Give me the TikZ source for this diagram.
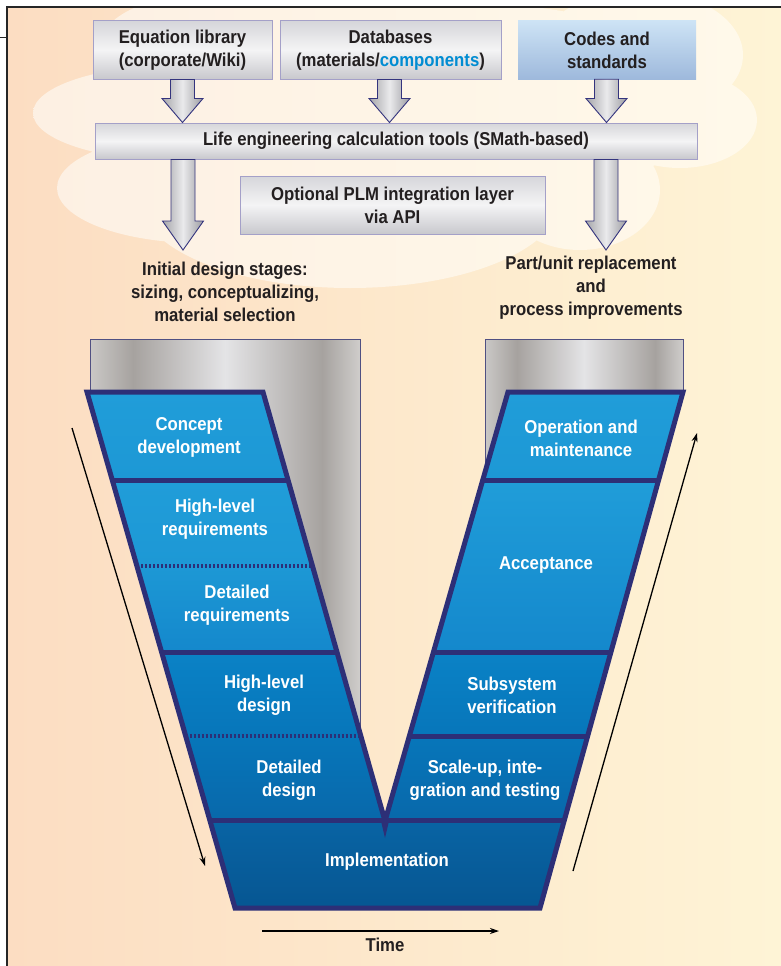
\documentclass[tikz,border=0pt]{standalone}
\usepackage{fontspec}
\setmainfont{Liberation Sans}[FakeStretch=0.9]
\usetikzlibrary{calc,arrows.meta}

% palette
\definecolor{bgleft}{RGB}{252,221,194}
\definecolor{bgright}{RGB}{254,244,214}
\definecolor{cloudleft}{RGB}{253,240,227}
\definecolor{cloudright}{RGB}{255,249,234}
\definecolor{ink}{RGB}{35,31,32}
\definecolor{compblue}{RGB}{0,140,210}
\definecolor{boxline}{RGB}{164,160,200}
\definecolor{boxtop}{RGB}{214,214,218}
\definecolor{boxmid}{RGB}{244,244,245}
\definecolor{boxbot}{RGB}{200,200,205}
\definecolor{codetop}{RGB}{205,227,245}
\definecolor{codebot}{RGB}{158,185,220}
\definecolor{arrowline}{RGB}{52,52,126}
\definecolor{arrowdark}{RGB}{165,165,169}
\definecolor{arrowlight}{RGB}{234,234,236}
\definecolor{arrowdarkR}{RGB}{155,155,160}
\definecolor{navy}{RGB}{45,47,119}
\definecolor{panelline}{RGB}{80,80,130}
\definecolor{cylA}{RGB}{202,200,198}
\definecolor{cylB}{RGB}{166,162,159}
\definecolor{cylC}{RGB}{228,228,230}
\definecolor{cylD}{RGB}{207,205,203}
\definecolor{blueA}{RGB}{32,157,217}
\definecolor{blueB}{RGB}{29,152,213}
\definecolor{blueC}{RGB}{20,136,204}
\definecolor{blueD}{RGB}{10,130,198}
\definecolor{blueE}{RGB}{7,118,186}
\definecolor{blueF}{RGB}{8,104,170}
\definecolor{blueG}{RGB}{9,100,164}
\definecolor{blueH}{RGB}{6,86,146}

% metallic panel behind the two arms
\pgfdeclarehorizontalshading{cylshade}{100bp}{color(0bp)=(cylA); color(25bp)=(cylA);
  color(33bp)=(cylB); color(50bp)=(cylC); color(68bp)=(cylB); color(75bp)=(cylD); color(100bp)=(cylD)}

% downward block arrow: start, tip, head length
\newcommand\blockdown[3]{%
  \shadedraw[blockshade] let \p1=(#1), \p2=(#2) in
    (\x1-12pt,\y1) -- (\x1+12pt,\y1) -- (\x1+12pt,\y2+#3) -- (\x1+20.5pt,\y2+#3)
    -- (\x1,\y2) -- (\x1-20.5pt,\y2+#3) -- (\x1-12pt,\y2+#3) -- cycle;}

\begin{document}
\begin{tikzpicture}[x=1pt,y=-1pt,
  lbl/.style={font=\fontsize{18.6}{23}\selectfont\bfseries, text=ink, align=center, inner sep=0pt},
  vtext/.style={lbl, text=white},
  graybox/.style={lbl, draw=boxline, line width=1pt, top color=boxtop, bottom color=boxbot,
    middle color=boxmid, minimum height=58pt},
  blockshade/.style={draw=arrowline, line width=0.9pt, left color=arrowdark,
    right color=arrowdarkR, middle color=arrowlight},
  vline/.style={draw=navy, line width=5pt},
  vdots/.style={draw=navy, line width=4.5pt, dash pattern=on 2pt off 2pt},
  timearrow/.style={line width=1.3pt, -{Stealth[length=9pt,width=6pt]}}]

\useasboundingbox (0,0) rectangle (781,966);
\fill[white] (0,0) rectangle (781,966);

% background and cloud
\shade[left color=bgleft, right color=bgright] (7,7) rectangle (781,966);
\begin{scope}
  \clip (7,7) rectangle (781,966);
  \shade[left color=cloudleft, right color=cloudright]
    (230,45) ellipse [x radius=130, y radius=55]
    (180,113) ellipse [x radius=147, y radius=48]
    (200,188) ellipse [x radius=143, y radius=55]
    (350,200) ellipse [x radius=210, y radius=88]
    (420,100) ellipse [x radius=310, y radius=100]
    (640,55) ellipse [x radius=103, y radius=65]
    (680,120) ellipse [x radius=77, y radius=48]
    (580,190) ellipse [x radius=80, y radius=60];
\end{scope}

% frame
\draw[line width=1.4pt, black!85] (7,966) -- (7,7) -- (781,7);
\draw[line width=1pt, black!85] (0,38) -- (7,38);

% sources, tool bar and PLM layer
\node[graybox, minimum width=179pt] (eqlib) at (182.5,50) {Equation library\\(corporate/Wiki)};
\node[graybox, minimum width=221pt] (dbase) at (390.5,50) {Databases\\(materials/{\color{compblue}components})};
\node[lbl, top color=codetop, bottom color=codebot, minimum width=178pt, minimum height=58pt] (codes) at (607,50) {Codes and\\standards};
\node[graybox, minimum width=602pt, minimum height=36pt] (bar) at (396,141) {Life engineering calculation tools (SMath-based)};
\node[graybox, minimum width=305pt] (plm) at (392.5,205) {Optional PLM integration layer\\via API};

\coordinate (tipL) at (183,250);
\coordinate (tipR) at (606,250);

\blockdown{eqlib.south}{eqlib.south |- bar.north}{24pt}
\blockdown{dbase.south -| 389.5,0}{389.5,0 |- bar.north}{24pt}
\blockdown{codes.south -| 606.5,0}{606.5,0 |- bar.north}{24pt}
\blockdown{bar.south -| tipL}{tipL}{29pt}
\blockdown{bar.south -| tipR}{tipR}{29pt}

\node[lbl] (initial) at (225,292) {Initial design stages:\\sizing, conceptualizing,\\material selection};
\node[lbl] (replace) at (591,288) {Part/unit replacement\\and\\process improvements};

% metallic panels
\shade[shading=cylshade] (90,339) -- (360,339) -- (360,733) -- (263,392) -- (90,392) -- cycle;
\draw[panelline, line width=0.8pt] (90,392) -- (90,339) -- (360,339) -- (360,733);
\shade[shading=cylshade] (485,339) -- (683,339) -- (683,392) -- (508,392) -- (485,472) -- cycle;
\draw[panelline, line width=0.8pt] (485,472) -- (485,339) -- (683,339) -- (683,392);

% left arm
\shade[top color=blueA, bottom color=blueB] (87,392) -- (263,392) -- (288,480) -- (112.2,480) -- cycle;
\shade[top color=blueA, bottom color=blueB] (112.2,480) -- (288,480) -- (312.5,566) -- (136.9,566) -- cycle;
\shade[top color=blueB, bottom color=blueC] (136.9,566) -- (312.5,566) -- (336.9,652) -- (161.6,652) -- cycle;
\shade[top color=blueD, bottom color=blueE] (161.6,652) -- (336.9,652) -- (360.8,736) -- (185.7,736) -- cycle;
\shade[top color=blueE, bottom color=blueF] (185.7,736) -- (360.8,736) -- (385,821) -- (209.8,820) -- cycle;
% right arm
\shade[top color=blueA, bottom color=blueB] (508,392) -- (683,392) -- (658.6,480) -- (482.8,480) -- cycle;
\shade[top color=blueA, bottom color=blueC] (482.8,480) -- (658.6,480) -- (611,652) -- (433.5,652) -- cycle;
\shade[top color=blueD, bottom color=blueE] (433.5,652) -- (611,652) -- (587.7,736) -- (409.4,736) -- cycle;
\shade[top color=blueE, bottom color=blueF] (409.4,736) -- (587.7,736) -- (564.4,820) -- (385,821) -- cycle;
% base
\shade[top color=blueG, bottom color=blueH] (209.8,820) -- (564.4,820) -- (540,908) -- (235,908) -- cycle;

% stage dividers
\draw[vline] (112.2,480) -- (288,480);
\draw[vdots] (136.9,566) -- (312.5,566);
\draw[vline] (161.6,652) -- (336.9,652);
\draw[vdots] (185.7,736) -- (360.8,736);
\draw[vline] (482.8,480) -- (658.6,480);
\draw[vline] (433.5,652) -- (611,652);
\draw[vline] (409.4,736) -- (587.7,736);
\draw[vline] (209.8,820) -- (564.4,820);
% V outline
\draw[vline, line join=miter] (87,392) -- (263,392) -- (385,821) -- (508,392) -- (683,392)
  -- (540,908) -- (235,908) -- cycle;
\fill[navy] (381,821) -- (389,821) -- (385,838) -- cycle;

% stage labels
\node[vtext] (concept) at (189,437) {Concept\\development};
\node[vtext] (hlreq) at (215,519) {High-level\\requirements};
\node[vtext] (detreq) at (237,605) {Detailed\\requirements};
\node[vtext] (hldes) at (264,695) {High-level\\design};
\node[vtext] (detdes) at (289,780) {Detailed\\design};
\node[vtext] (impl) at (387,862) {Implementation};
\node[vtext] (opm) at (581,438) {Operation and\\maintenance};
\node[vtext] (accept) at (546,565) {Acceptance};
\node[vtext] (subsys) at (512,695) {Subsystem\\verification};
\node[vtext] (scaleup) at (485,780) {Scale-up, inte-\\gration and testing};

% time arrows
\coordinate (downA) at (72,428);
\coordinate (downB) at (205,866);
\coordinate (upA) at (573,871);
\coordinate (upB) at (697,433);
\coordinate (timeA) at (262,931);
\coordinate (timeB) at (499,931);
\draw[timearrow] (downA) -- (downB);
\draw[timearrow] (upA) -- (upB);
\draw[timearrow] (timeA) -- (timeB);
\node[lbl] (time) at (385,945) {Time};
\end{tikzpicture}
\end{document}
